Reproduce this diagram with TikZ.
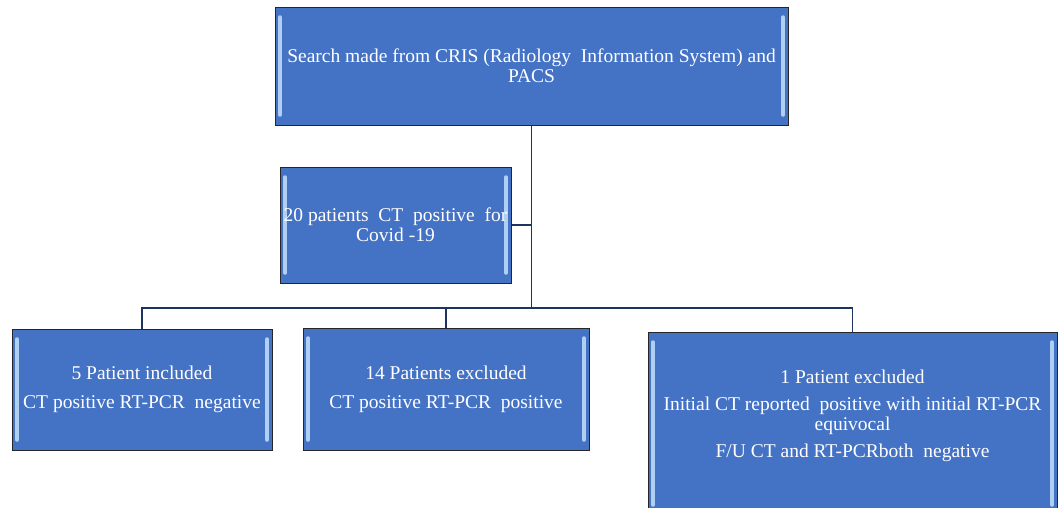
\documentclass[tikz,border=0pt]{standalone}
\usepackage{fontspec}
\setmainfont{Liberation Serif}
\usetikzlibrary{positioning,calc}
\definecolor{boxblue}{RGB}{68,114,196}
\definecolor{bevelblue}{RGB}{175,208,242}
\definecolor{linkblue}{RGB}{30,52,96}
\tikzset{
    bevel/.style={draw=bevelblue, line width=3.5pt, line cap=round},
    box/.style ={rectangle, draw=black!85, line width=1pt, fill=boxblue, inner sep=0pt,
        text=white, align=center, font=\rmfamily\fontsize{19.5}{20}\selectfont,
        path picture={
            \draw[bevel] ([xshift=5pt,yshift=-10pt]path picture bounding box.north west)
                -- ([xshift=5pt,yshift=10pt]path picture bounding box.south west);
            \draw[bevel] ([xshift=-5pt,yshift=-10pt]path picture bounding box.north east)
                -- ([xshift=-5pt,yshift=10pt]path picture bounding box.south east);
        }},
    txt/.style ={text=white, align=center, inner sep=0pt, font=\rmfamily\fontsize{19.5}{20}\selectfont},
    link/.style={draw=linkblue, line width=1.6pt}
}
\begin{document}
\begin{tikzpicture}[x=1pt,y=-1pt]
    \useasboundingbox[fill=white] (0,0) rectangle (1063,507);

    \node[box, minimum width=513, minimum height=118] (1) at (531.5,66)
        {Search made from CRIS (Radiology\ \ Information System) and\\PACS};
    \node[box, minimum width=231, minimum height=116] (2) at (395.5,225)
        {20 patients\ \ CT\ \ positive\ \ for\\Covid -19};
    \node[box, minimum width=260, minimum height=121] (3) at (142,389.5)
        {5 Patient included\\[9pt]CT positive RT-PCR\ \ negative};
    \node[box, minimum width=286, minimum height=122] (4) at (446,389)
        {14 Patients excluded\\[9pt]CT positive RT-PCR\ \ positive};
    \node[box, minimum width=409, minimum height=183] (5) at (852.5,423.5) {};
    \node[txt] (5t) at (852.5,416)
        {1 Patient excluded\\[7pt]Initial CT reported\ \ positive with initial RT-PCR\\equivocal\\[7pt]F/U CT and RT-PCRboth\ \ negative};

    % branching point below the search box
    \coordinate (6) at (1.south |- 0,308);

    \path[link] (1.south) -- (6);
    \path[link] (2.east) -- (2.east -| 6);
    \path[link] (6) -| (3.north);
    \path[link] (6) -| (4.north);
    \path[link] (6) -| (5.north);
\end{tikzpicture}
\end{document}
